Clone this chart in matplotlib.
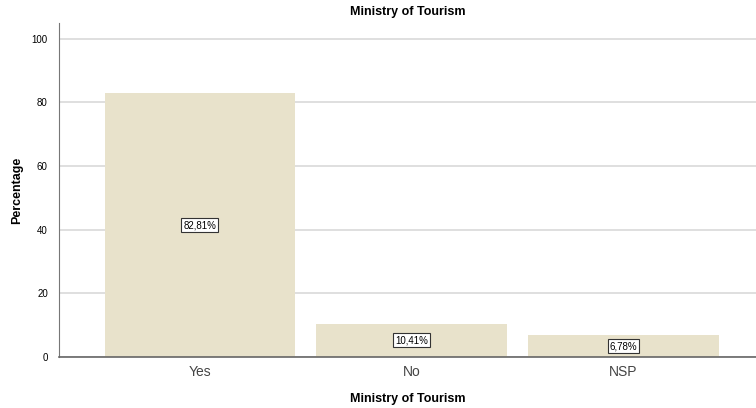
import matplotlib.pyplot as plt

# 数据
categories = ['Yes', 'No', 'NSP']
percentages = [82.81, 10.41, 6.78]
labels = ['82,81%', '10,41%', '6,78%']
y_ticks = [0, 20, 40, 60, 80, 100]

plt.rcParams['font.family'] = ['Liberation Sans', 'DejaVu Sans']

fig = plt.figure(figsize=(7.56, 4.08), dpi=100)
ax = fig.add_axes([0.078, 0.125, 0.922, 0.819])

x = range(len(categories))
ax.bar(x, percentages, width=0.9, color='#e8e2cb', zorder=2)

for i, v in enumerate(percentages):
    ax.text(i, v / 2, labels[i], ha='center', va='center', fontsize=7, zorder=3,
            bbox=dict(boxstyle='square,pad=0.2', fc='white', ec='#333333', lw=0.8))

ax.set_xlim(-0.665, 2.625)
ax.set_ylim(0, 105)
ax.set_yticks(y_ticks)
ax.set_xticks(list(x))
ax.set_xticklabels(categories, fontsize=10, color='#444444')
ax.tick_params(axis='y', labelsize=7, length=0, pad=8)
ax.tick_params(axis='x', length=0, pad=6)
ax.yaxis.grid(True, color='#d9d9d9', lw=1.2, zorder=0)

for s in ['top', 'right']:
    ax.spines[s].set_visible(False)
ax.spines['left'].set_color('#777777')
ax.spines['bottom'].set_color('#666666')
ax.spines['bottom'].set_linewidth(1.2)

ax.set_title('Ministry of Tourism', fontsize=9, fontweight='bold', pad=6)
ax.set_xlabel('Ministry of Tourism', fontsize=9, fontweight='bold', labelpad=10)
ax.set_ylabel('Percentage', fontsize=9, fontweight='bold', labelpad=6)

fig.savefig('out.png', dpi=100)
